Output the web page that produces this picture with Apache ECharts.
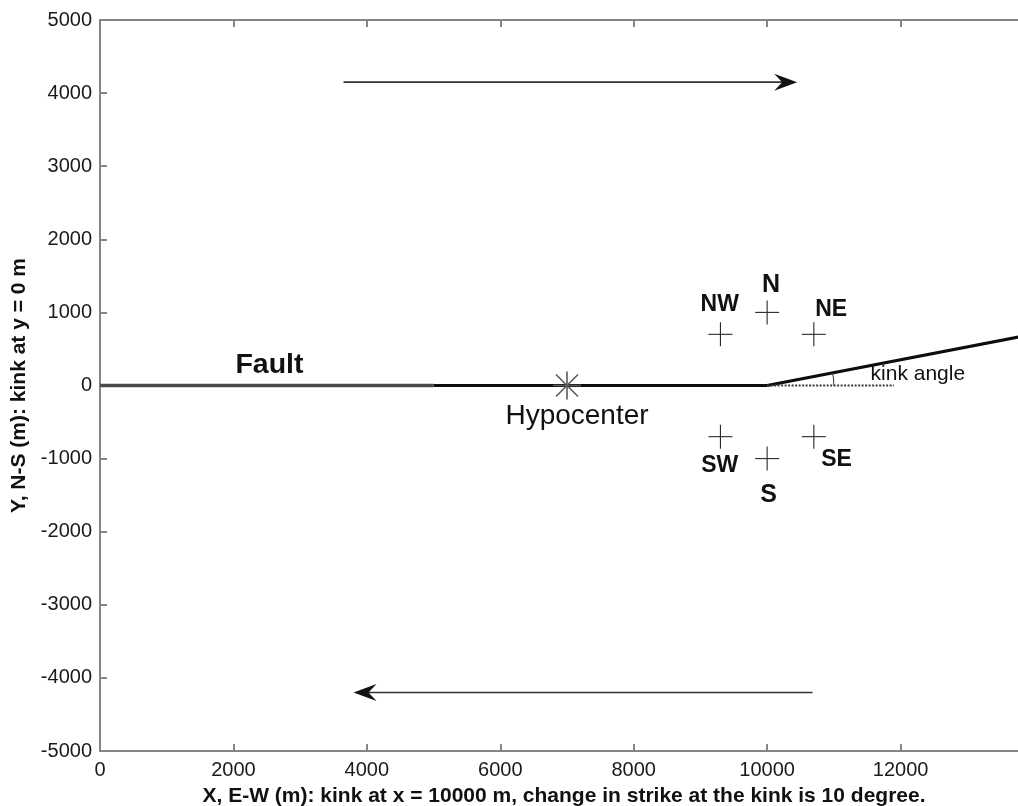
<!DOCTYPE html>
<html><head><meta charset="utf-8">
<script src="https://cdn.jsdelivr.net/npm/echarts@6/dist/echarts.min.js"></script>
<style>html,body{margin:0;padding:0;background:#fff}#c{width:1018px;height:806px}</style>
</head><body><div id="c"></div>
<script>
// ---- data ----
const xTickValues = [0, 2000, 4000, 6000, 8000, 10000, 12000];
const yTickValues = [-5000, -4000, -3000, -2000, -1000, 0, 1000, 2000, 3000, 4000, 5000];
const faultWest = [[0, 0], [5000, 0]];
const faultCentral = [[5000, 0], [10000, 0]];
const faultKinked = [[10000, 0], [14000, 705]];
const strikeReference = [[10000, 0], [11900, 0]];
const kinkArc = [[10000, 0, 11000]];          // kink x, kink y, x where arc crosses y=0
const hypocenter = [[7000, 0]];
const stationX = [10000, 10700, 9300, 10000, 10700, 9300];
const stationY = [1000, 700, 700, -1000, -700, -700];
const stationNames = ['N', 'NE', 'NW', 'S', 'SE', 'SW'];
const slipArrows = [[3650, 4150, 10450, 4150], [10680, -4200, 3800, -4200]]; // from x,y -> to x,y
const labelX = [10060, 9290, 10960, 10020, 9290, 11040, 2540, 7150, 11550];
const labelY = [1370, 1110, 1040, -1500, -1100, -1020, 280, -420, 160];
const labelText = ['N', 'NW', 'NE', 'S', 'SW', 'SE', 'Fault', 'Hypocenter', 'kink angle'];

// ---- styles ----
const FONT = '"Liberation Sans", Arial, Helvetica, sans-serif';
const labelStyle = {
  'N': {size: 25, weight: 'bold', align: 'center'},
  'NW': {size: 23, weight: 'bold', align: 'center'},
  'NE': {size: 23, weight: 'bold', align: 'center'},
  'S': {size: 25, weight: 'bold', align: 'center'},
  'SW': {size: 23, weight: 'bold', align: 'center'},
  'SE': {size: 23, weight: 'bold', align: 'center'},
  'Fault': {size: 28.5, weight: 'bold', align: 'center'},
  'Hypocenter': {size: 28, weight: 'normal', align: 'center'},
  'kink angle': {size: 21, weight: 'normal', align: 'left'}
};
const axisGrey = '#858585';

const chart = echarts.init(document.getElementById('c'), null, {renderer: 'canvas'});

function lineSeries(data, color, width, type) {
  return {type: 'line', data: data, showSymbol: false, symbol: 'none', silent: true,
    lineStyle: {color: color, width: width, type: type || 'solid'}, z: 3};
}

const axisCommon = {
  axisLine: {show: true, onZero: false, lineStyle: {color: axisGrey, width: 2}},
  axisTick: {show: true, inside: true, length: 7, lineStyle: {color: axisGrey, width: 2}},
  splitLine: {show: false}
};

chart.setOption({
  animation: false,
  backgroundColor: '#fff',
  grid: {left: 100, top: 20, width: 934, height: 731, outerBoundsMode: 'none', containLabel: false},
  xAxis: [Object.assign({
    type: 'value', min: 0, max: 14000, interval: 2000, position: 'bottom',
    name: 'X, E-W (m): kink at x = 10000 m, change in strike at the kink is 10 degree.',
    nameLocation: 'middle', nameGap: 35,
    nameTextStyle: {fontFamily: FONT, fontSize: 21, fontWeight: 'bold', color: '#111', padding: [0, 6, 0, 0]},
    axisLabel: {fontFamily: FONT, fontSize: 20, color: '#1a1a1a', margin: 9,
      formatter: v => xTickValues.indexOf(v) >= 0 ? String(v) : ''}
  }, axisCommon), Object.assign({
    type: 'value', min: 0, max: 14000, interval: 2000, position: 'top',
    axisLabel: {show: false}
  }, axisCommon)],
  yAxis: [Object.assign({
    type: 'value', min: -5000, max: 5000, interval: 1000,
    name: 'Y, N-S (m): kink at y = 0 m',
    nameLocation: 'middle', nameGap: 69, nameRotate: 90,
    nameTextStyle: {fontFamily: FONT, fontSize: 21, fontWeight: 'bold', color: '#111'},
    axisLabel: {fontFamily: FONT, fontSize: 20, color: '#1a1a1a', margin: 8,
      formatter: v => yTickValues.indexOf(v) >= 0 ? String(v) : ''}
  }, axisCommon)],
  series: [
    lineSeries(faultWest, '#4a4a4a', 3.5),
    lineSeries(faultCentral, '#0d0d0d', 3),
    lineSeries(faultKinked, '#0d0d0d', 3.2),
    lineSeries(strikeReference, '#3a3a3a', 2.2, [2, 1.5]),
    {
      type: 'custom', data: kinkArc, silent: true, z: 4,
      renderItem: function (params, api) {
        const c = api.coord([api.value(0), api.value(1)]);
        const r = api.coord([api.value(2), api.value(1)])[0] - c[0];
        const e = api.coord(faultKinked[1]);
        const ang = Math.atan2(e[1] - c[1], e[0] - c[0]);
        return {type: 'arc', shape: {cx: c[0], cy: c[1], r: r, startAngle: ang, endAngle: 0, clockwise: true},
          style: {stroke: '#333', lineWidth: 1, fill: null}};
      }
    },
    {
      type: 'custom', data: hypocenter, silent: true, z: 5,
      renderItem: function (params, api) {
        const p = api.coord([api.value(0), api.value(1)]);
        const s = {stroke: '#5a5a5a', lineWidth: 1.6};
        const arms = [[0, 14], [11, 11], [-11, 11], [14, 0]];
        return {type: 'group', children: arms.map(a => ({type: 'line',
          shape: {x1: p[0] - a[0], y1: p[1] - a[1], x2: p[0] + a[0], y2: p[1] + a[1]}, style: s}))};
      }
    },
    {
      type: 'custom', data: stationX.map((x, i) => [x, stationY[i]]), silent: true, z: 5,
      renderItem: function (params, api) {
        const p = api.coord([api.value(0), api.value(1)]);
        const s = {stroke: '#2a2a2a', lineWidth: 1.1};
        return {type: 'group', children: [
          {type: 'line', shape: {x1: p[0] - 12, y1: p[1], x2: p[0] + 12, y2: p[1]}, style: s},
          {type: 'line', shape: {x1: p[0], y1: p[1] - 12, x2: p[0], y2: p[1] + 12}, style: s}
        ]};
      }
    },
    {
      type: 'custom', data: slipArrows, silent: true, z: 5,
      renderItem: function (params, api) {
        const a = api.coord([api.value(0), api.value(1)]);
        const b = api.coord([api.value(2), api.value(3)]);
        const ang = Math.atan2(b[1] - a[1], b[0] - a[0]);
        const ca = Math.cos(ang), sa = Math.sin(ang);
        const pt = (back, side) => [b[0] - back * ca - side * sa, b[1] - back * sa + side * ca];
        return {type: 'group', children: [
          {type: 'line', shape: {x1: a[0], y1: a[1], x2: pt(12, 0)[0], y2: pt(12, 0)[1]},
            style: {stroke: '#333', lineWidth: 1.6}},
          {type: 'polygon', shape: {points: [b, pt(23, 8.5), pt(15, 0), pt(23, -8.5)]},
            style: {fill: '#111'}}
        ]};
      }
    },
    {
      type: 'custom', data: labelX.map((x, i) => [x, labelY[i]]), silent: true, z: 6,
      renderItem: function (params, api) {
        const p = api.coord([api.value(0), api.value(1)]);
        const t = labelText[params.dataIndex];
        const st = labelStyle[t];
        return {type: 'text', x: p[0], y: p[1], style: {text: t, fontFamily: FONT, fontSize: st.size,
          fontWeight: st.weight, fill: '#111', align: st.align, verticalAlign: 'middle'}};
      }
    }
  ]
});
</script></body></html>
